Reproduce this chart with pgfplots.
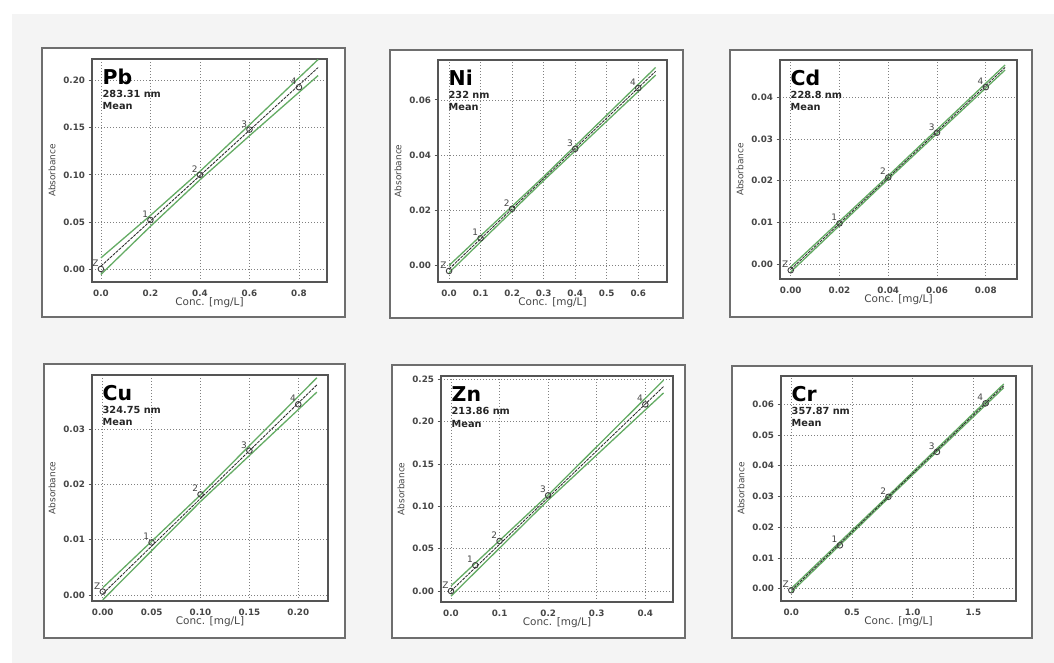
\documentclass[border=0pt]{standalone}
\usepackage{fontspec}
\setmainfont{DejaVu Sans}
\usepackage{pgfplots}
\pgfplotsset{compat=1.18}
\definecolor{bandgreen}{RGB}{100,172,100}
\definecolor{bggray}{RGB}{244,244,244}
\definecolor{framegray}{RGB}{110,110,110}
\definecolor{axgray}{RGB}{85,85,85}
\definecolor{txtgray}{RGB}{70,70,70}
\pgfplotsset{
 calib/.style={
  scale only axis, anchor=south west, clip=false,
  axis line style={draw=axgray, line width=1.3bp},
  grid=major,
  major grid style={draw=black!50, line width=0.7bp, dash pattern=on 1.2bp off 1.8bp},
  xtick style={draw=none},
  ytick style={draw=axgray, line width=0.8bp},
  tick align=outside, major tick length=3.5bp,
  xtick pos=bottom, ytick pos=left,
  ticklabel style={font=\fontsize{8.8}{9}\selectfont\bfseries, text=txtgray},
  /pgf/number format/assume math mode=true,
  /pgf/number format/fixed, /pgf/number format/fixed zerofill,
  scaled ticks=false,
  yticklabel style={/pgf/number format/precision=2},
  xticklabel style={yshift=-1bp},
 },
 band/.style={bandgreen, line width=1.3bp},
 ctr/.style={black!85, line width=0.8bp, dash pattern=on 3bp off 1bp},
 pts/.style={only marks, mark=o, mark size=2.8bp, mark options={draw=black!75, line width=0.9bp},
   nodes near coords, point meta=explicit symbolic,
   every node near coord/.append style={anchor=south east, font=\fontsize{9}{9}\selectfont, text=txtgray, inner sep=0.5bp, xshift=-1.5bp, yshift=1.5bp}},
}
\newcommand{\ttl}[2]{%
 \node[anchor=base west, font=\fontsize{20.5}{21}\selectfont\bfseries, inner sep=0pt] at ([xshift=10.5bp,yshift=-26bp]rel axis cs:0,1) {#1};
 \node[anchor=base west, font=\fontsize{9.8}{10}\selectfont\bfseries, inner sep=0pt, text=black!85] at ([xshift=10.5bp,yshift=-39bp]rel axis cs:0,1) {#2};
 \node[anchor=base west, font=\fontsize{9.8}{10}\selectfont\bfseries, inner sep=0pt, text=black!85] at ([xshift=10.5bp,yshift=-51bp]rel axis cs:0,1) {Mean};
 \node[font=\fontsize{10.5}{11}\selectfont, text=txtgray] at ([yshift=-21bp]rel axis cs:0.5,0) {Conc. [mg/L]};
 \node[rotate=90, font=\fontsize{9}{9}\selectfont, text=txtgray] at ([xshift=-40bp]rel axis cs:0,0.5) {Absorbance};
}
\begin{document}
\begin{tikzpicture}
\fill[white] (0bp,0bp) rectangle (1054bp,663bp);
\fill[bggray] (12bp,0bp) rectangle (1054bp,649bp);
\draw[framegray, line width=1.5bp, fill=white] (42bp,346bp) rectangle (345bp,615bp);
\draw[framegray, line width=1.5bp, fill=white] (390bp,345bp) rectangle (683bp,613bp);
\draw[framegray, line width=1.5bp, fill=white] (730bp,346bp) rectangle (1032bp,613bp);
\draw[framegray, line width=1.5bp, fill=white] (44bp,25bp) rectangle (345bp,299bp);
\draw[framegray, line width=1.5bp, fill=white] (392bp,25bp) rectangle (685bp,298bp);
\draw[framegray, line width=1.5bp, fill=white] (732bp,25bp) rectangle (1032bp,297bp);

% Pb
\begin{axis}[calib, at={(92bp,381bp)}, width=235bp, height=223bp,
  xmin=-0.036, xmax=0.913, ymin=-0.0138, ymax=0.223,
  xtick={0,0.2,0.4,0.6,0.8}, ytick={0,0.05,0.10,0.15,0.20},
  xticklabel style={/pgf/number format/precision=1}]
\addplot[band] coordinates {(0,0.0118) (0.2,0.0569) (0.4,0.1037) (0.6,0.1531) (0.877,0.2224)};
\addplot[band] coordinates {(0,-0.0058) (0.2,0.0453) (0.4,0.0947) (0.6,0.1415) (0.877,0.2054)};
\addplot[ctr] coordinates {(0,0.003) (0.877,0.2139)};
\addplot[pts] table[meta=l] {
x y l
0 0.000 Z
0.2 0.052 1
0.4 0.100 2
0.6 0.148 3
0.8 0.193 4
};
\ttl{Pb}{283.31 nm}
\end{axis}

% Ni
\begin{axis}[calib, at={(438bp,381bp)}, width=229bp, height=222bp,
  xmin=-0.035, xmax=0.691, ymin=-0.0062, ymax=0.0745,
  xtick={0,0.1,0.2,0.3,0.4,0.5,0.6}, ytick={0,0.02,0.04,0.06},
  xticklabel style={/pgf/number format/precision=1}]
\addplot[band] coordinates {(0,-0.0002) (0.3,0.0321) (0.655,0.0718)};
\addplot[band] coordinates {(0,-0.0028) (0.3,0.0307) (0.655,0.0690)};
\addplot[ctr] coordinates {(0,-0.0015) (0.655,0.0704)};
\addplot[pts] table[meta=l] {
x y l
0 -0.0022 Z
0.1 0.0097 1
0.2 0.0204 2
0.4 0.0422 3
0.6 0.0643 4
};
\ttl{Ni}{232 nm}
\end{axis}

% Cd
\begin{axis}[calib, at={(780bp,384bp)}, width=237bp, height=219bp,
  xmin=-0.0044, xmax=0.0928, ymin=-0.0035, ymax=0.0489,
  xtick={0,0.02,0.04,0.06,0.08}, ytick={0,0.01,0.02,0.03,0.04},
  xticklabel style={/pgf/number format/precision=2}]
\addplot[band] coordinates {(0,-0.0006) (0.04,0.0212) (0.0879,0.0477)};
\addplot[band] coordinates {(0,-0.0018) (0.04,0.0204) (0.0879,0.0465)};
\addplot[ctr] coordinates {(0,-0.0012) (0.0879,0.0471)};
\addplot[pts] table[meta=l] {
x y l
0 -0.0014 Z
0.02 0.0098 1
0.04 0.0208 2
0.06 0.0315 3
0.08 0.0424 4
};
\ttl{Cd}{228.8 nm}
\end{axis}

% Cu
\begin{axis}[calib, at={(92bp,62bp)}, width=236bp, height=226bp,
  xmin=-0.011, xmax=0.2304, ymin=-0.0011, ymax=0.0398,
  xtick={0,0.05,0.10,0.15,0.20}, ytick={0,0.01,0.02,0.03},
  xticklabel style={/pgf/number format/precision=2}]
\addplot[band] coordinates {(0,0.0013) (0.1,0.0181) (0.219,0.0393)};
\addplot[band] coordinates {(0,-0.0009) (0.1,0.0169) (0.219,0.0367)};
\addplot[ctr] coordinates {(0,0.0002) (0.219,0.0380)};
\addplot[pts] table[meta=l] {
x y l
0 0.0006 Z
0.05 0.0095 1
0.1 0.0182 2
0.15 0.0261 3
0.2 0.0345 4
};
\ttl{Cu}{324.75 nm}
\end{axis}

% Zn
\begin{axis}[calib, at={(441bp,61bp)}, width=232bp, height=226bp,
  xmin=-0.0206, xmax=0.457, ymin=-0.013, ymax=0.254,
  xtick={0,0.1,0.2,0.3,0.4}, ytick={0,0.05,0.10,0.15,0.20,0.25},
  xticklabel style={/pgf/number format/precision=1}]
\addplot[band] coordinates {(0,0.006) (0.2,0.1134) (0.4375,0.249)};
\addplot[band] coordinates {(0,-0.006) (0.2,0.1074) (0.4375,0.234)};
\addplot[ctr] coordinates {(0,0.0) (0.4375,0.2415)};
\addplot[pts] table[meta=l] {
x y l
0 0.0 Z
0.05 0.0304 1
0.1 0.0591 2
0.2 0.113 3
0.4 0.2204 4
};
\ttl{Zn}{213.86 nm}
\end{axis}

% Cr
\begin{axis}[calib, at={(781bp,62bp)}, width=235bp, height=225bp,
  xmin=-0.085, xmax=1.851, ymin=-0.004, ymax=0.0692,
  xtick={0,0.5,1.0,1.5}, ytick={0,0.01,0.02,0.03,0.04,0.05,0.06},
  xticklabel style={/pgf/number format/precision=1}]
\addplot[band] coordinates {(0,0.0001) (0.8,0.0303) (1.75,0.0666)};
\addplot[band] coordinates {(0,-0.0011) (0.8,0.0295) (1.75,0.0654)};
\addplot[ctr] coordinates {(0,-0.0005) (1.75,0.066)};
\addplot[pts] table[meta=l] {
x y l
0 -0.0005 Z
0.4 0.0141 1
0.8 0.0299 2
1.2 0.0445 3
1.6 0.0603 4
};
\ttl{Cr}{357.87 nm}
\end{axis}
\end{tikzpicture}
\end{document}
